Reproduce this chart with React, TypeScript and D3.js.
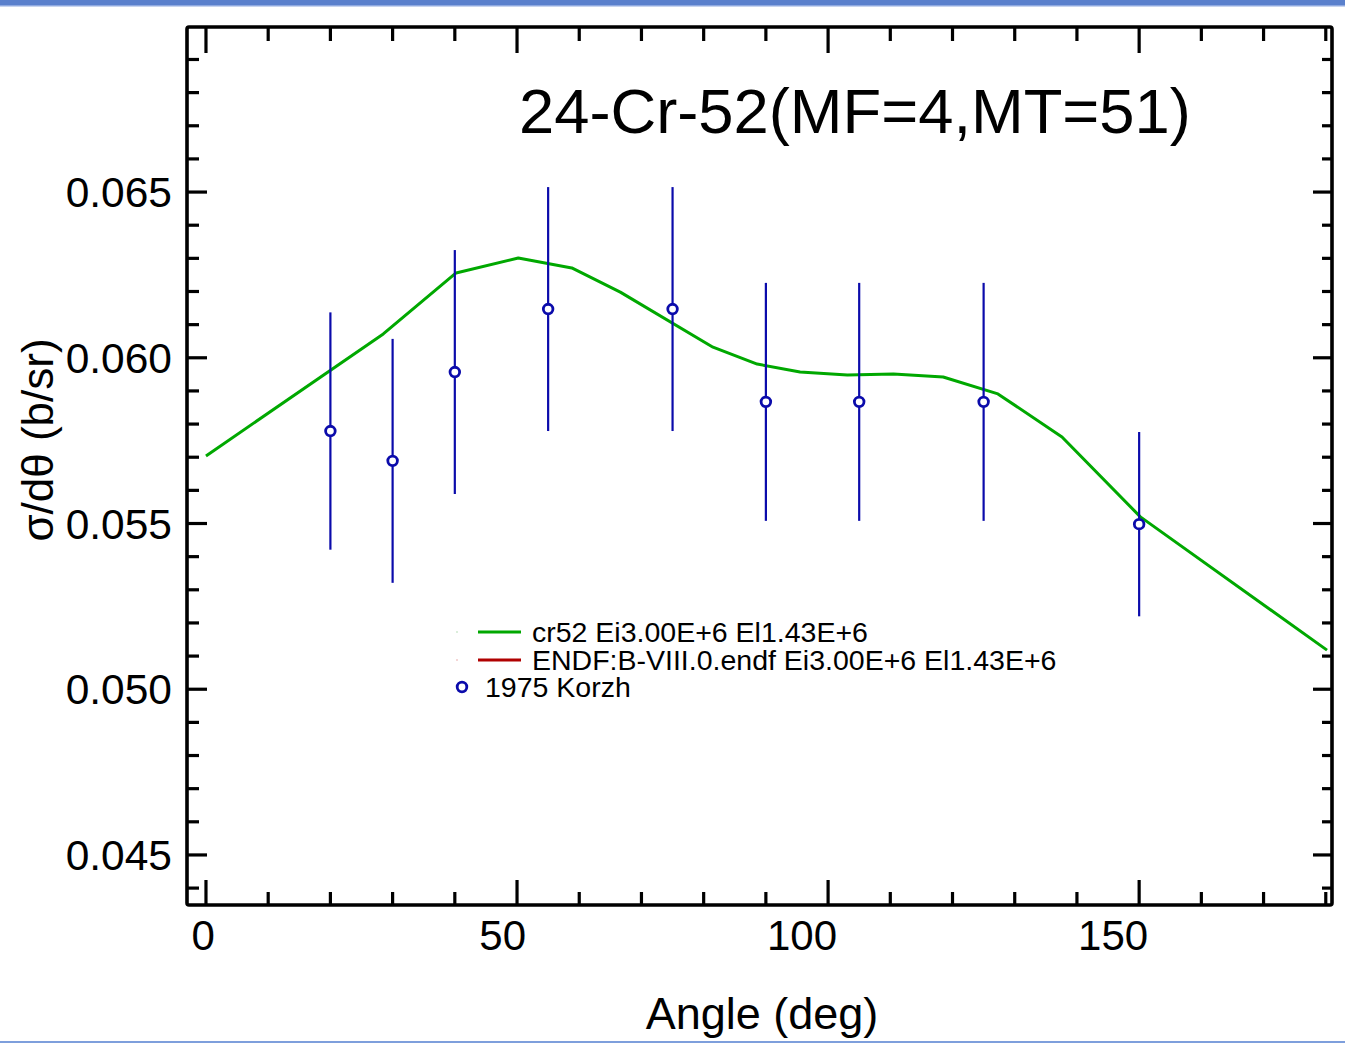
import React from "react";
import * as d3 from "d3";

const curveAngles = [0, 28.5, 40.2, 50.2, 58.8, 66.6, 81.5, 88.6, 95.5, 103.1, 110.5, 118.5, 127.3, 137.6, 150.2, 180.2];
const curveValues = [0.05704, 0.06072, 0.06256, 0.06301, 0.06271, 0.06198, 0.06032, 0.05981, 0.05957, 0.05948, 0.05951, 0.05942, 0.05891, 0.05761, 0.0552, 0.05118];

const expAngles = [20, 30, 40, 55, 75, 90, 105, 125, 150];
const expValues = [0.05779, 0.05689, 0.05957, 0.06147, 0.06147, 0.05867, 0.05867, 0.05867, 0.05498];
const expErrors = [0.00358, 0.00368, 0.00368, 0.00368, 0.00368, 0.00359, 0.00359, 0.00359, 0.00278];

const xMajorTicks = [0, 50, 100, 150];
const yMajorTicks = [0.045, 0.05, 0.055, 0.06, 0.065];
const yTickLabels = ["0.045", "0.050", "0.055", "0.060", "0.065"];

const legendLabels = ["cr52 Ei3.00E+6 El1.43E+6", "ENDF:B-VIII.0.endf Ei3.00E+6 El1.43E+6", "1975 Korzh"];

const title = "24-Cr-52(MF=4,MT=51)";
const xTitle = "Angle (deg)";
const yTitle = "σ/dθ (b/sr)";

const W = 1345, H = 1045;
const L = 187, R = 1332, T = 27, B = 905;
const FONT = "'Liberation Sans', Arial, Helvetica, sans-serif";
const GREEN = "#00a800";
const RED = "#b00000";
const BLUE = "#0b0bab";

export default function App() {
  const x = d3.scaleLinear().domain([-3.05, 181]).range([L, R]);
  const y = d3.scaleLinear().domain([0.04349, 0.06998]).range([B, T]);

  const xMinor = d3.range(0, 181, 10);
  const yMinor = d3.range(44, 70).map((v) => v / 1000);

  const line = d3
    .line<number>()
    .x((d, i) => x(curveAngles[i]))
    .y((d) => y(d));

  const isXMajor = (v: number) => xMajorTicks.some((m) => Math.abs(m - v) < 1e-9);
  const isYMajor = (v: number) => yMajorTicks.some((m) => Math.abs(m - v) < 1e-9);

  const lx0 = 478, lx1 = 521, ly = 632, ldy = 28;

  return (
    <svg
      width={W}
      height={H}
      style={{ position: "absolute", left: 0, top: 0, background: "#fff" }}
      fontFamily={FONT}
    >
      <rect x={0} y={0} width={W} height={5} fill="#5a80cc" />
      <rect x={0} y={5} width={W} height={1.5} fill="#8fa9e0" />
      <rect x={0} y={1041} width={W} height={2} fill="#7e9fdc" />

      <defs>
        <clipPath id="plotclip">
          <rect x={L} y={T} width={R - L} height={B - T} />
        </clipPath>
      </defs>

      {/* x ticks */}
      {xMinor.map((v) => {
        const len = isXMajor(v) ? 25 : 13;
        return (
          <g key={"xt" + v} stroke="#000" strokeWidth={3.2}>
            <line x1={x(v)} x2={x(v)} y1={B} y2={B - len} />
            <line x1={x(v)} x2={x(v)} y1={T} y2={T + len + 1} />
          </g>
        );
      })}
      {/* y ticks */}
      {yMinor.map((v) => {
        const major = isYMajor(v);
        return (
          <g key={"yt" + v} stroke="#000" strokeWidth={3.2}>
            <line x1={L} x2={L + (major ? 20 : 12)} y1={y(v)} y2={y(v)} />
            <line x1={R} x2={R - (major ? 19 : 10)} y1={y(v)} y2={y(v)} />
          </g>
        );
      })}

      {/* frame */}
      <rect x={L} y={T} width={R - L} height={B - T} fill="none" stroke="#000" strokeWidth={3.6} rx={2} />

      {/* tick labels */}
      {xMajorTicks.map((v) => (
        <text key={"xl" + v} x={x(v) + 9} y={950} fontSize={42} textAnchor="end" fill="#000">
          {v}
        </text>
      ))}
      {yMajorTicks.map((v, i) => (
        <text key={"yl" + v} x={172} y={y(v) + 15} fontSize={42.5} textAnchor="end" fill="#000">
          {yTickLabels[i]}
        </text>
      ))}

      {/* axis titles */}
      <text x={762} y={1029} fontSize={45} textAnchor="middle" fill="#000">
        {xTitle}
      </text>
      <text transform={`translate(53,440) rotate(-90)`} fontSize={44} textAnchor="middle" fill="#000">
        {yTitle}
      </text>

      {/* title */}
      <text x={519} y={133} fontSize={63.3} fill="#000">
        {title}
      </text>

      <g clipPath="url(#plotclip)">
        <path d={line(curveValues) || ""} fill="none" stroke={GREEN} strokeWidth={3} strokeLinejoin="round" />
        {expAngles.map((a, i) => (
          <line
            key={"eb" + i}
            x1={x(a)}
            x2={x(a)}
            y1={y(expValues[i] - expErrors[i])}
            y2={y(expValues[i] + expErrors[i])}
            stroke={BLUE}
            strokeWidth={2.2}
          />
        ))}
        {expAngles.map((a, i) => (
          <circle key={"pt" + i} cx={x(a)} cy={y(expValues[i])} r={4.8} fill="#fff" stroke={BLUE} strokeWidth={2.8} />
        ))}
      </g>

      {/* legend */}
      <circle cx={457} cy={ly} r={1} fill="#cfe9cf" />
      <line x1={lx0} x2={lx1} y1={ly} y2={ly} stroke={GREEN} strokeWidth={3} />
      <text x={532} y={ly + 10} fontSize={28.5} fill="#000">{legendLabels[0]}</text>
      <circle cx={457} cy={ly + ldy} r={1} fill="#f0c8c8" />
      <line x1={lx0} x2={lx1} y1={ly + ldy} y2={ly + ldy} stroke={RED} strokeWidth={3} />
      <text x={532} y={ly + ldy + 10} fontSize={28.5} fill="#000">{legendLabels[1]}</text>
      <circle cx={462} cy={ly + 2 * ldy - 1} r={4.8} fill="#fff" stroke={BLUE} strokeWidth={2.8} />
      <text x={485} y={ly + 2 * ldy + 9} fontSize={28.5} fill="#000">{legendLabels[2]}</text>
    </svg>
  );
}
